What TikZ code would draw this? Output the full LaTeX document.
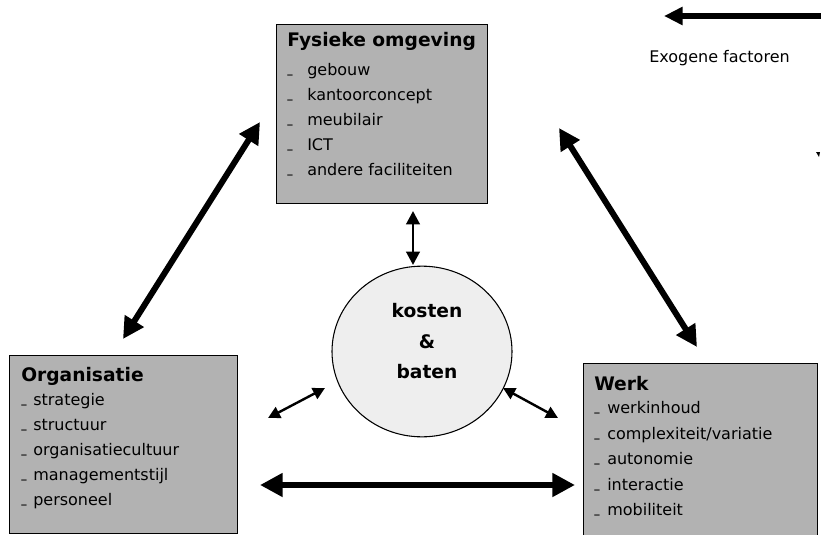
\documentclass[tikz,border=0pt]{standalone}
\usepackage{fontspec}
\setmainfont{DejaVu Sans}
\usetikzlibrary{arrows.meta,shapes.geometric}
\definecolor{boxgray}{RGB}{178,178,178}
\definecolor{circgray}{RGB}{238,238,238}

\begin{document}
\begin{tikzpicture}[x=0.75pt,y=-0.75pt,
  box/.style={draw=black,line width=0.9pt,fill=boxgray,inner sep=0pt,anchor=north west},
  ttl/.style={anchor=base west,inner sep=0pt,font=\fontsize{14}{16}\selectfont\bfseries},
  itm/.style={anchor=base west,inner sep=0pt,font=\fontsize{12}{14}\selectfont},
  bul/.style={anchor=base west,inner sep=0pt,font=\fontsize{8}{10}\selectfont\bfseries},
  ctr/.style={anchor=base,inner sep=0pt,font=\fontsize{14}{16}\selectfont\bfseries},
  bigarrow/.style={line width=4.5pt,{Triangle[length=16pt,width=16pt]}-{Triangle[length=16pt,width=16pt]}},
  smallarrow/.style={line width=1.8pt,{Triangle[length=9pt,width=9pt]}-{Triangle[length=9pt,width=9pt]}}]

% canvas
\clip (0,0) rectangle (821,535);
\fill[white] (0,0) rectangle (821,535);

% the three boxes
\node[box,minimum width=158.25pt,minimum height=134.25pt] (fys) at (276,24) {};
\node[box,minimum width=171pt,minimum height=133.5pt] (org) at (9,355) {};
\node[box,minimum width=175.5pt,minimum height=140pt] (werk) at (583,363) {};

% central ellipse
\node[ellipse,draw=black,line width=0.8pt,fill=circgray,minimum width=135pt,minimum height=128pt,inner sep=0pt] (kb) at (422,351.5) {};
\node[ctr] (kb1) at (427,317) {kosten};
\node[ctr] (kb2) at (427,348) {\&};
\node[ctr] (kb3) at (427,378) {baten};

% box contents
\node[ttl] (fyst) at (287,47) {Fysieke omgeving};
\foreach \t [count=\i] in {gebouw,kantoorconcept,meubilair,ICT,andere faciliteiten} {
  \node[bul] (fb\i) at (287,{50+25*\i}) {\raisebox{0.18em}{\_}};
  \node[itm] (fi\i) at (307,{50+25*\i}) {\t};
}

\node[ttl] (orgt) at (21,381) {Organisatie};
\foreach \t [count=\i] in {strategie,structuur,organisatiecultuur,managementstijl,personeel} {
  \node[bul] (ob\i) at (21,{380+25*\i}) {\raisebox{0.18em}{\_}};
  \node[itm] (oi\i) at (33,{380+25*\i}) {\t};
}

\node[ttl] (werkt) at (594,390) {Werk};
\foreach \t [count=\i] in {werkinhoud,complexiteit/variatie,autonomie,interactie,mobiliteit} {
  \node[bul] (wb\i) at (594,{388+25.5*\i}) {\raisebox{0.18em}{\_}};
  \node[itm] (wi\i) at (607,{388+25.5*\i}) {\t};
}

% exogenous factors
\node[itm] (exo) at (649,63) {Exogene factoren};
\coordinate (exoA) at (821,16);
\coordinate (exoB) at (664,16);
\draw[line width=4pt,-{Triangle[length=14pt,width=13pt]}] (exoA) -- (exoB);
\fill (816,152) -- (820,152) -- (819,157) -- cycle;

% arrow end points
\coordinate (lA) at (260,122);
\coordinate (lB) at (123,339);
\coordinate (rA) at (559,128);
\coordinate (rB) at (697,347);
\coordinate (bA) at (260,485);
\coordinate (bB) at (575,485);
\coordinate (tA) at (413,211);
\coordinate (tB) at (413,265);
\coordinate (slA) at (268,418);
\coordinate (slB) at (325,388);
\coordinate (srA) at (503,388);
\coordinate (srB) at (558,418);

% relations between the boxes
\draw[bigarrow] (lA) -- (lB);
\draw[bigarrow] (rA) -- (rB);
\draw[line width=5pt,{Triangle[length=17pt,width=17pt]}-{Triangle[length=17pt,width=17pt]}] (bA) -- (bB);

% relations with costs and benefits
\draw[line width=2.2pt,{Triangle[length=10pt,width=10pt]}-{Triangle[length=10pt,width=10pt]}] (tA) -- (tB);
\draw[smallarrow] (slA) -- (slB);
\draw[smallarrow] (srA) -- (srB);
\end{tikzpicture}
\end{document}
